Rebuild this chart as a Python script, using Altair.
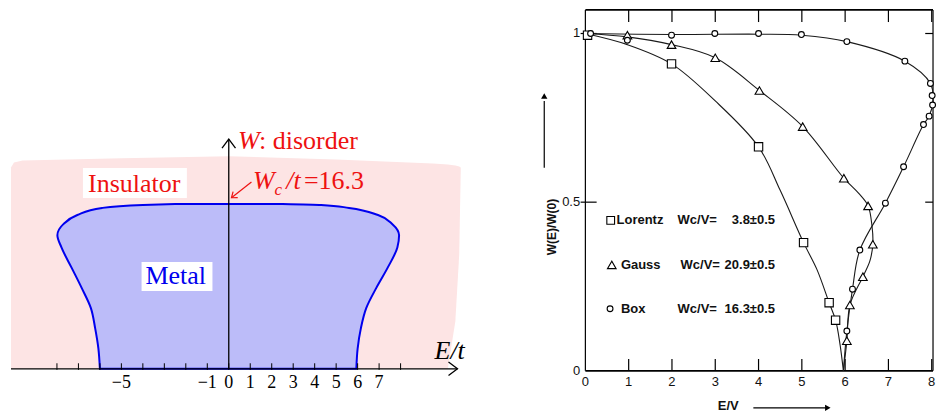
import altair as alt
import pandas as pd

# ================= LEFT PANEL DATA (phase diagram) =================
tick_E = list(range(-8, 9))
label_E = [-5, -1, 0, 1, 2, 3, 4, 5, 6, 7]
label_txt = ["−5", "−1", "0", "1", "2", "3", "4", "5", "6", "7"]

# metal / insulator boundary (E/t at given disorder W)
metal_W = [0.0, 2.0, 4.0, 6.0, 8.0, 10.0, 12.0, 13.2, 14.3, 15.2, 15.9, 16.2, 16.3]
metal_left = [-6.0, -6.07, -6.22, -6.42, -6.85, -7.32, -7.79, -7.98, -7.7, -7.05, -5.9, -4.0, -2.5]
metal_right = [5.94, 6.0, 6.15, 6.4, 6.87, 7.4, 7.85, 7.93, 7.62, 6.95, 5.6, 4.3, 2.5]
Wc = 16.3

# insulator background region
pink_E = [-10.14, -10.0, -9.6, -5.0, 0.0, 5.0, 9.5, 10.2, 10.55, 10.73, 10.8]
pink_top = [19.9, 20.4, 20.6, 20.8, 21.0, 20.7, 20.3, 20.2, 20.1, 20.0, 19.9]
pink_bot = [0.0, 0.0, 0.0, 0.0, 0.0, 0.0, 0.0, 0.0, 4.7, 11.3, 19.5]

# ================= RIGHT PANEL DATA (W(E)/W(0) vs E/V) =================
lor_x = [0.05, 1.99, 4.0, 5.04, 5.63, 5.78]
lor_y = [0.995, 0.910, 0.664, 0.380, 0.202, 0.150]
lor_cx = [0.0, 0.97, 1.99, 3.0, 4.0, 4.5, 5.04, 5.35, 5.63, 5.78, 5.88, 5.96]
lor_cy = [1.0, 0.967, 0.910, 0.80, 0.664, 0.535, 0.380, 0.300, 0.202, 0.150, 0.080, 0.0]

gau_x = [0.97, 1.99, 3.0, 4.02, 5.02, 5.97, 6.53, 6.64, 6.41, 6.11, 6.04]
gau_y = [0.995, 0.967, 0.928, 0.831, 0.724, 0.571, 0.489, 0.375, 0.279, 0.195, 0.089]
gau_cx = [0.0, 0.97, 1.99, 3.0, 4.02, 5.02, 5.97, 6.32, 6.53, 6.62, 6.64, 6.57, 6.41, 6.11, 6.04, 5.96]
gau_cy = [1.0, 0.990, 0.967, 0.928, 0.831, 0.724, 0.571, 0.525, 0.489, 0.430, 0.375, 0.325, 0.279, 0.195, 0.089, 0.0]

box_x = [0.12, 0.97, 1.99, 2.99, 4.0, 4.99, 6.04, 7.38, 7.97, 8.01, 8.02, 7.94, 7.81, 7.35, 6.93, 6.34, 6.17, 6.04]
box_y = [1.0, 0.98, 0.995, 1.0, 1.0, 0.997, 0.976, 0.918, 0.852, 0.816, 0.788, 0.755, 0.730, 0.605, 0.497, 0.358, 0.242, 0.118]
box_cx = [0.0, 2.0, 4.0, 5.0, 6.04, 7.38, 7.97, 8.03, 7.94, 7.81, 7.35, 6.93, 6.34, 6.17, 6.04, 5.96]
box_cy = [1.0, 0.997, 0.998, 0.995, 0.976, 0.918, 0.852, 0.80, 0.755, 0.730, 0.605, 0.497, 0.358, 0.242, 0.118, 0.0]

xtick_vals = [0, 1, 2, 3, 4, 5, 6, 7, 8]
ytick_vals = [0, 0.5, 1]
ytick_txt = ["0", "0.5", "1"]
legend_names = ["Lorentz", "Gauss", "Box"]
legend_vals = ["3.8±0.5", "20.9±0.5", "16.3±0.5"]

# ================= LEFT PANEL =================
xl = alt.Scale(domain=[-10.279, 11.581], nice=False, zero=False)
yl = alt.Scale(domain=[-4.343, 35.54], nice=False, zero=False)
SERIF = "Liberation Serif"
RED = "#EE1111"


def LX(f):
    return alt.X(f, scale=xl, axis=None)


def LY(f):
    return alt.Y(f, scale=yl, axis=None)


pink = alt.Chart(pd.DataFrame({"E": pink_E, "top": pink_top, "bot": pink_bot})).mark_area(
    color="#FDE4E4", opacity=1
).encode(x=LX("E:Q"), y=LY("top:Q"), y2="bot:Q")

metal = alt.Chart(pd.DataFrame({"W": metal_W, "L": metal_left, "R": metal_right})).mark_area(
    orient="horizontal", interpolate="monotone", fill="#BCBCF9", fillOpacity=1,
    stroke="#0000EE", strokeWidth=2
).encode(y=LY("W:Q"), x=LX("L:Q"), x2="R:Q")

axes_df = pd.DataFrame({"x": [-10.14, 0.0], "x2": [10.65, 0.0], "y": [0.0, 0.0], "y2": [0.0, 22.7]})
axes_rules = alt.Chart(axes_df).mark_rule(color="black", strokeWidth=1.3).encode(
    x=LX("x:Q"), x2="x2:Q", y=LY("y:Q"), y2="y2:Q")

ARROW = "M-1,-0.75L0,0L-1,0.75"
heads_df = pd.DataFrame({"x": [10.65, 0.0], "y": [0.0, 22.7], "ang": [0, 270]})
heads = alt.Chart(heads_df).mark_point(shape=ARROW, filled=False, color="black",
                                       strokeWidth=1.3, size=324, opacity=1).encode(
    x=LX("x:Q"), y=LY("y:Q"), angle=alt.Angle("ang:Q", scale=None))

ticks_l = alt.Chart(pd.DataFrame({"E": tick_E, "y": [-0.1] * len(tick_E), "y2": [0.55] * len(tick_E)})
                    ).mark_rule(color="black", strokeWidth=1).encode(
    x=LX("E:Q"), y=LY("y:Q"), y2="y2:Q")

tick_labels_l = alt.Chart(pd.DataFrame({"E": label_E, "y": [-1.85] * len(label_E), "t": label_txt})).mark_text(
    font=SERIF, fontSize=18, baseline="alphabetic", align="center", color="black"
).encode(x=LX("E:Q"), y=LY("y:Q"), text="t:N")

# red arrow pointing to W_c
rarrow = alt.Chart(pd.DataFrame({"x": [1.056], "x2": [0.126], "y": [18.46], "y2": [16.91]})).mark_rule(
    color=RED, strokeWidth=1.2).encode(x=LX("x:Q"), x2="x2:Q", y=LY("y:Q"), y2="y2:Q")
rhead = alt.Chart(pd.DataFrame({"x": [0.126], "y": [16.91], "ang": [142]})).mark_point(
    shape=ARROW, filled=False, color=RED, strokeWidth=1.2, size=100, opacity=1).encode(
    x=LX("x:Q"), y=LY("y:Q"), angle=alt.Angle("ang:Q", scale=None))

boxes_df = pd.DataFrame({"x": [-6.79, -4.06], "x2": [-1.95, -0.76], "y": [16.88, 7.7], "y2": [19.84, 10.56]})
boxes = alt.Chart(boxes_df).mark_rect(color="white", opacity=1).encode(
    x=LX("x:Q"), x2="x2:Q", y=LY("y:Q"), y2="y2:Q")


def txt(df, **kw):
    base = dict(font=SERIF, fontSize=26, baseline="alphabetic", align="left")
    base.update(kw)
    return alt.Chart(pd.DataFrame(df)).mark_text(**base).encode(
        x=LX("x:Q"), y=LY("y:Q"), text="t:N")


red_it = txt({"x": [0.43, 1.13, 2.68], "y": [21.75, 17.8, 17.8], "t": ["W", "W", "/t"]},
             color=RED, fontStyle="italic")
red_sub = txt({"x": [2.13], "y": [17.2], "t": ["c"]}, color=RED, fontStyle="italic", fontSize=17)
red_rm = txt({"x": [1.41, 3.5], "y": [21.75, 17.8], "t": [": disorder", "=16.3"]}, color=RED)
ins_txt = txt({"x": [-4.40], "y": [17.5], "t": ["Insulator"]}, color=RED, align="center")
met_txt = txt({"x": [-2.47], "y": [8.36], "t": ["Metal"]}, color="#0000EE", align="center")
et_txt = txt({"x": [9.58], "y": [0.95], "t": ["E/t"]}, color="black", fontStyle="italic")

left = alt.layer(pink, metal, axes_rules, heads, ticks_l, tick_labels_l, rarrow, rhead, boxes,
                 red_it, red_sub, red_rm, ins_txt, met_txt, et_txt).properties(width=470, height=404)

# ================= RIGHT PANEL =================
xr = alt.Scale(domain=[-2.492, 8.122], nice=False, zero=False)
yr = alt.Scale(domain=[-0.1244, 1.072], nice=False, zero=False)
SANS = "Liberation Sans"


def RX(f):
    return alt.X(f, scale=xr, axis=None)


def RY(f):
    return alt.Y(f, scale=yr, axis=None)


frame_df = pd.DataFrame({
    "x": [0.0, 0.0, 0.0, 8.03], "x2": [8.03, 8.03, 0.0, 8.03],
    "y": [0.0, 1.07, 0.0, 0.0], "y2": [0.0, 1.07, 1.07, 1.07], "w": [1.8, 1.8, 1.2, 1.2]})
frame = alt.Chart(frame_df).mark_rule(color="black").encode(
    x=RX("x:Q"), x2="x2:Q", y=RY("y:Q"), y2="y2:Q", strokeWidth=alt.StrokeWidth("w:Q", scale=None))

tk_rows = []
for k in xtick_vals[1:]:
    tk_rows.append({"x": k, "x2": k, "y": 0.0, "y2": 0.035})
    tk_rows.append({"x": k, "x2": k, "y": 1.07, "y2": 1.034})
for v in [0.5, 1.0]:
    tk_rows.append({"x": -0.11, "x2": 0.26, "y": v, "y2": v})
    tk_rows.append({"x": 7.85, "x2": 8.03, "y": v, "y2": v})
rticks = alt.Chart(pd.DataFrame(tk_rows)).mark_rule(color="black", strokeWidth=1.2).encode(
    x=RX("x:Q"), x2="x2:Q", y=RY("y:Q"), y2="y2:Q")

curve_rows = []
for name, cx, cy in [("Lorentz", lor_cx, lor_cy), ("Gauss", gau_cx, gau_cy), ("Box", box_cx, box_cy)]:
    for i, (a, b) in enumerate(zip(cx, cy)):
        curve_rows.append({"s": name, "i": i, "x": a, "y": b})
curves = alt.Chart(pd.DataFrame(curve_rows)).mark_line(
    interpolate="catmull-rom", color="#1a1a1a", strokeWidth=1.1).encode(
    x=RX("x:Q"), y=RY("y:Q"), detail="s:N", order="i:Q")


def markers(xs, ys, shape, size):
    return alt.Chart(pd.DataFrame({"x": xs, "y": ys})).mark_point(
        shape=shape, size=size, filled=True, fill="white", stroke="black",
        strokeWidth=1.1, opacity=1).encode(x=RX("x:Q"), y=RY("y:Q"))


m_lor = markers(lor_x, lor_y, "square", 70)
m_gau = markers(gau_x, gau_y, "triangle-up", 75)
m_box = markers(box_x, box_y, "circle", 34)

leg_m1 = markers([0.585], [0.446], "square", 60)
leg_m2 = markers([0.61], [0.314], "triangle-up", 75)
leg_m3 = markers([0.57], [0.184], "circle", 34)


def rtxt(df, **kw):
    base = dict(font=SANS, fontSize=13, baseline="middle", align="left", color="#111111")
    base.update(kw)
    return alt.Chart(pd.DataFrame(df)).mark_text(**base).encode(
        x=RX("x:Q"), y=RY("y:Q"), text="t:N")


leg_names = rtxt({"x": [0.72, 0.82, 0.82], "y": [0.446, 0.314, 0.184], "t": legend_names},
                 fontWeight="bold")
leg_w = rtxt({"x": [2.13, 2.2, 2.13], "y": [0.446, 0.314, 0.184], "t": ["Wᴄ/V="] * 3},
             fontWeight="bold")
leg_v = rtxt({"x": [4.38, 4.38, 4.38], "y": [0.446, 0.314, 0.184], "t": legend_vals},
             fontWeight="bold", align="right")

xlab = rtxt({"x": xtick_vals, "y": [-0.033] * len(xtick_vals), "t": [str(v) for v in xtick_vals]},
            align="center")
ylab = rtxt({"x": [-0.12] * 3, "y": ytick_vals, "t": ytick_txt}, align="right")
xtitle = rtxt({"x": [3.3], "y": [-0.1155], "t": ["E/V"]}, align="center", fontWeight="bold",
              baseline="alphabetic")
ytitle = rtxt({"x": [-0.78], "y": [0.426], "t": ["W(E)/W(0)"]}, align="center", angle=270,
              fontWeight="bold", fontSize=12)

arr_df = pd.DataFrame({"x": [3.88, -0.95], "x2": [5.55, -0.95], "y": [-0.1096, 0.602], "y2": [-0.1096, 0.80]})
arr_lines = alt.Chart(arr_df).mark_rule(color="black", strokeWidth=1.2).encode(
    x=RX("x:Q"), x2="x2:Q", y=RY("y:Q"), y2="y2:Q")
arr_heads = alt.Chart(pd.DataFrame({"x": [5.6, -0.95], "y": [-0.1096, 0.815],
                                    "sh": ["triangle-right", "triangle-up"]})).mark_point(
    filled=True, color="black", size=40, opacity=1).encode(
    x=RX("x:Q"), y=RY("y:Q"), shape=alt.Shape("sh:N", scale=None))

right = alt.layer(frame, rticks, curves, m_lor, m_gau, m_box, leg_m1, leg_m2, leg_m3,
                  leg_names, leg_w, leg_v, xlab, ylab, xtitle, ytitle, arr_lines, arr_heads
                  ).properties(width=460, height=404)

chart = alt.hconcat(left, right, spacing=0, padding=0).configure_view(stroke=None)
chart.save("out.html", embed_options={"renderer": "svg", "actions": False})
